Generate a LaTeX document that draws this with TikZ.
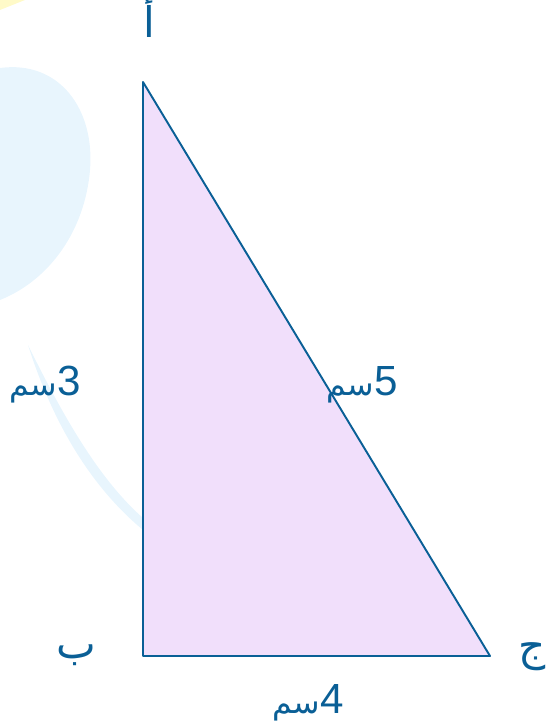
\documentclass[tikz,border=0pt]{standalone}
\usepackage{fontspec}
\setmainfont{Liberation Sans}
\newfontfamily\arabicfont[Script=Arabic]{DejaVu Sans}
\TeXXeTstate=1
\usetikzlibrary{positioning}
\definecolor{sidecolor}{RGB}{10, 95, 150}
\definecolor{trifill}{RGB}{241, 223, 251}
\definecolor{ghostblue}{RGB}{232, 245, 253}
\definecolor{ghostyellow}{RGB}{255, 250, 200}
\tikzset{lbl/.style={text=sidecolor, inner sep=0pt, anchor=base, font=\fontsize{24}{28}\selectfont}}
\newcommand{\cm}[1]{{\arabicfont\fontsize{18}{22}\selectfont\beginR سم\endR}#1}

\begin{document}
\begin{tikzpicture}[x=0.02cm, y=-0.02cm]
\useasboundingbox (0,0) rectangle (545,723);
% faint background
\fill[ghostyellow] (0,0) -- (25,0) -- (0,10) -- cycle;
\fill[ghostblue] (0,68) .. controls (60,60) and (95,110) .. (90,170) .. controls (85,230) and (50,280) .. (0,300) -- cycle;
\fill[ghostblue] (28,345) .. controls (55,430) and (95,490) .. (143,530) -- (143,518) .. controls (100,480) and (65,420) .. (28,345) -- cycle;
% triangle
\coordinate (A) at (143,82);
\coordinate (B) at (143,656);
\coordinate (C) at (490,656);
\draw[sidecolor, fill=trifill, line width=1.1pt, line join=round] (A) -- (B) -- (C) -- cycle;
% labels
\node[lbl] (alef) at (149,38) {\arabicfont أ};
\node[lbl] (beh) at (76,658) {\arabicfont ب};
\node[lbl] (jeem) at (532,660) {\arabicfont ج};
\node[lbl] (ab) at (45,395) {\cm{3}};
\node[lbl] (ac) at (362,395) {\cm{5}};
\node[lbl] (bc) at (308,713) {\cm{4}};
\end{tikzpicture}
\end{document}
